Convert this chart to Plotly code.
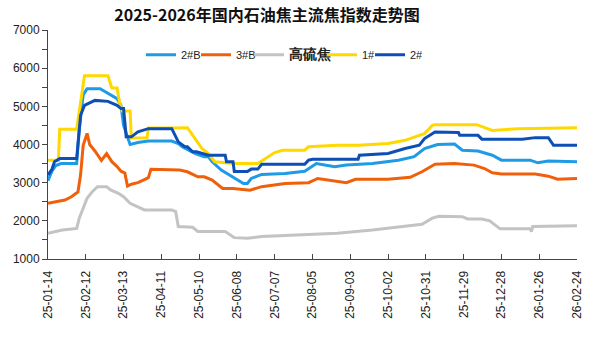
import pandas as pd
import plotly.graph_objects as go

START = "2025-01-14"

# x tick dates and labels (every 29 days)
tick_dates = ["2025-01-14", "2025-02-12", "2025-03-13", "2025-04-11", "2025-05-10",
              "2025-06-08", "2025-07-07", "2025-08-05", "2025-09-03", "2025-10-02",
              "2025-10-31", "2025-11-29", "2025-12-28", "2026-01-26", "2026-02-24"]
tick_labels = ["25-01-14", "25-02-12", "25-03-13", "25-04-11", "25-05-10",
               "25-06-08", "25-07-07", "25-08-05", "25-09-03", "25-10-02",
               "25-10-31", "25-11-29", "25-12-28", "26-01-26", "26-02-24"]

# Series: day offsets from START and index values
days_2b = [0, 3, 6, 10, 22, 24, 27, 30, 40, 47, 53, 56, 58, 63, 69, 77, 95, 100, 103, 113,
           120, 123, 126, 133, 145, 150, 153, 156, 164, 182, 197, 206, 220, 229, 249, 269,
           281, 289, 299, 312, 318, 330, 341, 348, 370, 376, 384, 406]
vals_2b = [3050, 3300, 3450, 3500, 3500, 4400, 5300, 5460, 5460, 5330, 5200, 5026, 4500, 4000,
           4050, 4090, 4090, 4025, 3940, 3764, 3680, 3680, 3547, 3330, 3070, 2980, 2980, 3110,
           3215, 3240, 3300, 3500, 3415, 3460, 3500, 3590, 3680, 3895, 4000, 4010, 3850, 3830,
           3720, 3590, 3590, 3520, 3565, 3550]

days_3b = [0, 13, 18, 23, 25, 27, 30, 32, 36, 41, 45, 49, 53, 56, 59, 61, 64, 69, 74, 77, 79,
           101, 107, 115, 120, 126, 134, 142, 155, 164, 182, 200, 207, 222, 229, 236, 261, 278,
           287, 297, 312, 327, 335, 341, 348, 374, 384, 391, 406]
vals_3b = [2460, 2545, 2630, 2760, 3200, 3980, 4290, 4000, 3830, 3580, 3760, 3550, 3420, 3300,
           3250, 2910, 2960, 3000, 3080, 3130, 3350, 3330, 3285, 3155, 3155, 3070, 2850, 2850,
           2800, 2895, 2980, 3000, 3110, 3040, 3000, 3090, 3090, 3140, 3285, 3485, 3500, 3460,
           3370, 3260, 3225, 3225, 3170, 3090, 3110]

days_hs = [0, 11, 22, 24, 27, 30, 34, 38, 45, 48, 54, 58, 63, 69, 74, 95, 98, 100, 111, 115,
           136, 143, 153, 164, 180, 200, 222, 249, 274, 287, 295, 300, 318, 322, 333, 339, 343,
           347, 370, 371, 372, 406]
vals_hs = [1675, 1760, 1800, 2070, 2330, 2590, 2765, 2895, 2895, 2810, 2720, 2630, 2460, 2370,
           2285, 2285, 2240, 1850, 1830, 1720, 1720, 1560, 1545, 1590, 1615, 1630, 1675, 1760,
           1850, 1910, 2070, 2120, 2110, 2050, 2050, 2000, 1895, 1790, 1790, 1720, 1850, 1870]

days_1 = [0, 8, 9, 22, 28, 46, 49, 53, 55, 57, 63, 64, 76, 77, 97, 107, 113, 118, 123, 128,
          142, 161, 174, 180, 197, 200, 222, 238, 261, 274, 285, 289, 295, 297, 329, 341, 361,
          406]
vals_1 = [3590, 3590, 4400, 4400, 5800, 5800, 5480, 5480, 5090, 4880, 4880, 4170, 4170, 4430,
          4430, 4440, 4150, 3900, 3764, 3547, 3500, 3500, 3790, 3850, 3850, 3940, 3980, 3980,
          4025, 4110, 4240, 4285, 4500, 4520, 4520, 4370, 4415, 4440]

days_2 = [0, 3, 5, 9, 22, 25, 28, 36, 46, 53, 56, 58, 60, 64, 69, 77, 95, 100, 105, 107, 111,
          114, 123, 136, 137, 142, 143, 153, 156, 161, 164, 197, 200, 203, 238, 239, 261, 274,
          285, 289, 297, 315, 316, 330, 333, 364, 374, 384, 388, 406]
vals_2 = [3200, 3350, 3550, 3630, 3630, 4765, 5026, 5156, 5130, 5026, 4940, 4940, 4200, 4200,
          4330, 4415, 4415, 4070, 3940, 3940, 3810, 3810, 3720, 3720, 3547, 3547, 3290, 3290,
          3355, 3355, 3480, 3480, 3590, 3615, 3615, 3720, 3765, 3895, 3980, 4155, 4330, 4313,
          4240, 4240, 4140, 4140, 4180, 4180, 3980, 3980]

names = ["2#B", "3#B", "<span style='font-size:14px'><b>高硫焦</b></span>", "1#", "2#"]
colors = ["#1F9BE6", "#F0600A", "#C3C3C3", "#FFD800", "#0D4FB5"]
day_lists = [days_2b, days_3b, days_hs, days_1, days_2]
val_lists = [vals_2b, vals_3b, vals_hs, vals_1, vals_2]

# legend entry placement (left pixel of each entry) – layout only
PLOT_L, PLOT_W = 48, 529
legend_px = [141, 196, 249, 322, 370]
legend_ids = ["legend", "legend2", "legend3", "legend4", "legend5"]

start = pd.Timestamp(START)
fig = go.Figure()
for name, d, v, color, lid in zip(names, day_lists, val_lists, colors, legend_ids):
    x = [start + pd.Timedelta(days=int(k)) for k in d]
    fig.add_trace(go.Scatter(x=x, y=v, mode="lines", name=name, legend=lid,
                             line=dict(color=color, width=3)))

legend_layout = {}
for lid, px in zip(legend_ids, legend_px):
    legend_layout[lid] = dict(orientation="h", x=(px - PLOT_L) / PLOT_W, xanchor="left",
                              y=0.892, yanchor="middle", font=dict(size=11, color="#222"),
                              bgcolor="rgba(0,0,0,0)", borderwidth=0, itemwidth=30)

fig.update_layout(
    width=600, height=346,
    margin=dict(l=48, r=23, t=30, b=87),
    paper_bgcolor="white", plot_bgcolor="white",
    font=dict(family="Liberation Sans, Arial", size=12, color="#222"),
    title=dict(text="<b>2025-2026年国内石油焦主流焦指数走势图</b>",
               font=dict(family="Noto Sans CJK SC", size=16, color="#111"),
               x=267 / 600, xanchor="center", xref="container",
               y=1 - 15.5 / 346, yanchor="middle", yref="container"),
    showlegend=True,
    **legend_layout,
)
fig.update_xaxes(
    type="date",
    range=[tick_dates[0], tick_dates[-1]],
    tickvals=tick_dates, ticktext=tick_labels, tickangle=-90,
    ticks="inside", ticklen=5, tickcolor="#444",
    showline=True, linecolor="#444", linewidth=1,
    showgrid=False, zeroline=False,
    tickfont=dict(size=12, color="#222"),
    ticklabelstandoff=6,
)
fig.update_yaxes(
    range=[1000, 7000], dtick=1000, tick0=1000,
    ticks="outside", ticklen=5, tickcolor="#444",
    minor=dict(dtick=500, ticks="outside", ticklen=5, tickcolor="#444", showgrid=False),
    showline=True, linecolor="#444", linewidth=1,
    showgrid=False, zeroline=False,
    tickfont=dict(size=12, color="#222"),
)

fig.write_html("out.html")
